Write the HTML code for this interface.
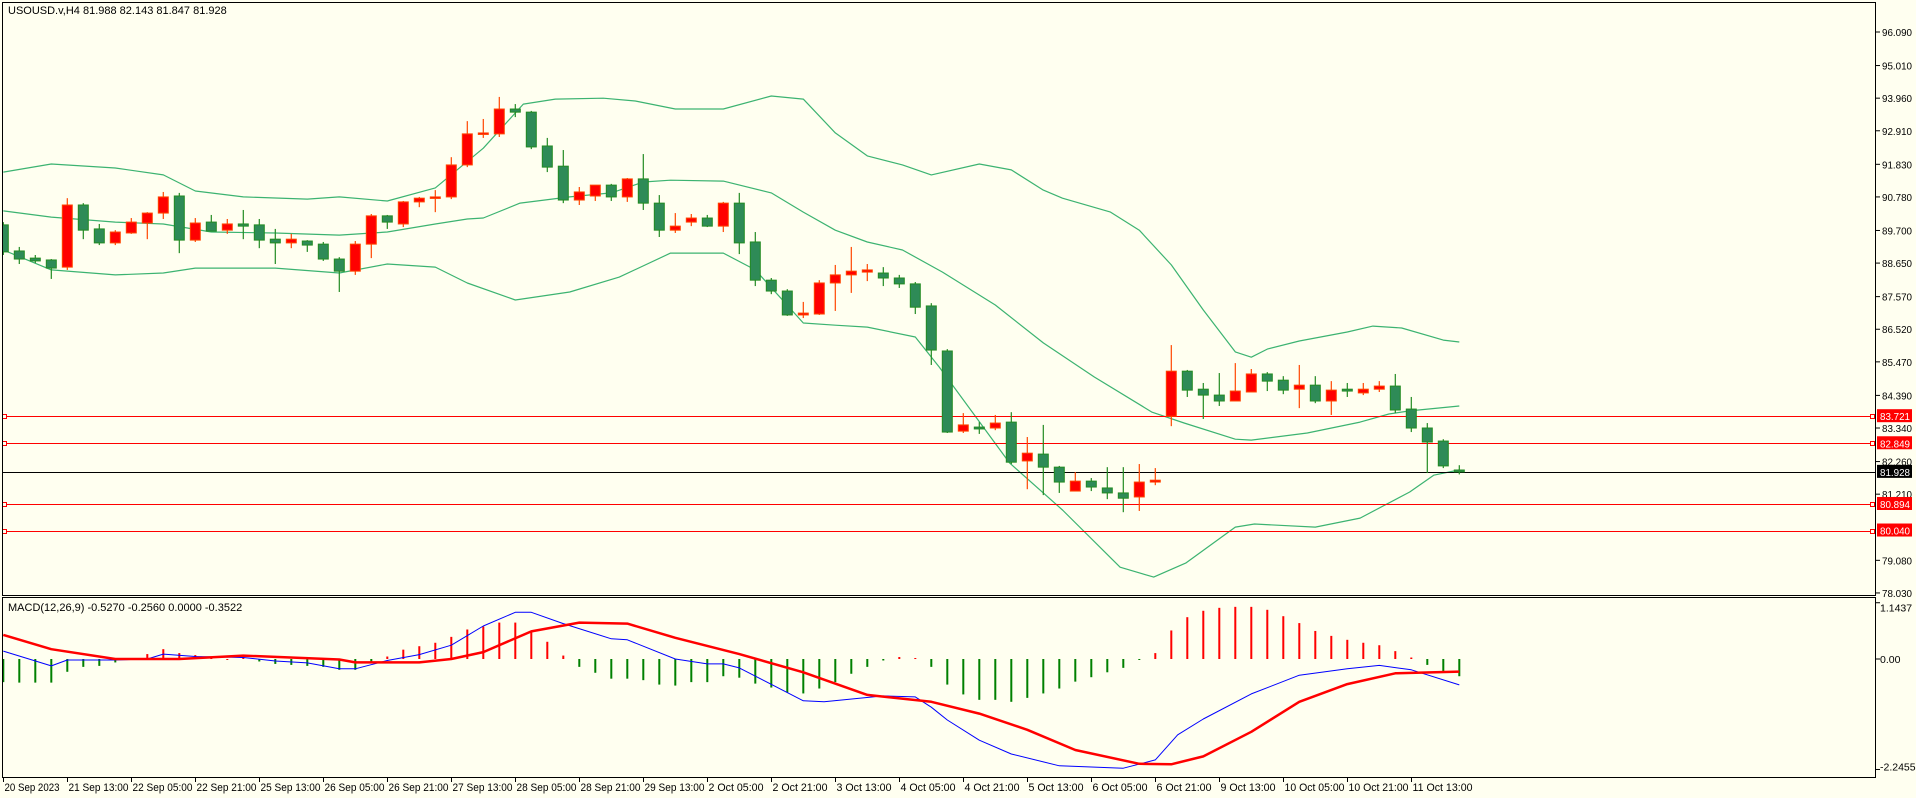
<!DOCTYPE html>
<html><head><meta charset="utf-8"><style>
html,body{margin:0;padding:0;background:#fffff0;}
svg{display:block;font-family:"Liberation Sans",sans-serif;font-size:11px;}
.ax{font-size:10.5px;}
</style></head><body>
<svg id="chart" width="1916" height="798" xmlns="http://www.w3.org/2000/svg">
<rect x="0" y="0" width="1916" height="798" fill="#fffff0"/>
<defs>
<clipPath id="mainClip"><rect x="3" y="3" width="1872" height="592"/></clipPath>
<clipPath id="macdClip"><rect x="3" y="598" width="1872" height="179"/></clipPath>
</defs>
<g id="bands" clip-path="url(#mainClip)"></g>
<g id="levels"></g>
<g id="candles" clip-path="url(#mainClip)"></g>
<g id="macd" clip-path="url(#macdClip)"></g>
<rect x="2.5" y="2.5" width="1873" height="593" fill="none" stroke="#000" stroke-width="1"/>
<rect x="2.5" y="597.5" width="1873" height="180" fill="none" stroke="#000" stroke-width="1"/>
<text x="8" y="14" fill="#000">USOUSD.v,H4  81.988 82.143 81.847 81.928</text>
<text x="8" y="611" fill="#000">MACD(12,26,9) -0.5270 -0.2560 0.0000 -0.3522</text>
<g id="yaxis" class="ax"></g>
<g id="xaxis"></g>
</svg>
<script>
const openP=[89.88,89.04,88.81,88.75,88.52,90.52,89.75,89.30,89.62,89.94,
90.26,90.81,89.39,89.97,89.71,89.91,89.88,89.42,89.30,89.36,
89.26,88.78,88.39,89.26,90.17,89.91,90.62,90.74,90.78,91.81,
92.81,92.81,93.61,93.51,92.42,91.77,90.68,90.81,91.16,90.78,
91.36,90.58,89.71,89.97,90.10,89.84,90.58,89.33,88.10,87.75,
86.98,87.01,88.01,88.27,88.36,88.33,88.17,87.98,87.27,85.82,
83.24,83.37,83.34,83.53,82.28,82.50,82.08,81.31,81.63,81.41,
81.25,81.12,81.60,83.72,85.17,84.59,84.40,84.21,84.50,85.08,
84.88,84.59,84.72,84.21,84.59,84.47,84.59,84.69,83.95,83.34,
82.92,81.988];
const closeP=[89.01,88.78,88.72,88.49,90.52,89.71,89.30,89.65,89.97,90.26,
90.78,89.39,89.94,89.68,89.91,89.84,89.39,89.30,89.42,89.23,
88.78,88.39,89.26,90.17,89.97,90.62,90.74,90.78,91.81,92.81,
92.84,93.61,93.51,92.39,91.74,90.68,90.94,91.16,90.78,91.36,
90.58,89.71,89.84,90.10,89.84,90.58,89.30,88.10,87.75,86.98,
87.04,88.01,88.27,88.39,88.43,88.17,87.98,87.23,85.85,83.21,
83.44,83.31,83.50,82.24,82.53,82.08,81.60,81.63,81.44,81.25,
81.08,81.60,81.66,85.17,84.56,84.40,84.21,84.53,85.08,84.85,
84.56,84.72,84.21,84.56,84.53,84.59,84.69,83.92,83.34,82.89,
82.12,81.928];
const highP=[89.97,89.17,88.91,88.78,90.74,90.58,89.91,89.71,90.10,90.29,
90.94,90.91,90.10,90.20,90.07,90.36,90.07,89.75,89.59,89.39,
89.33,88.84,89.36,90.23,90.20,90.65,90.78,91.00,92.06,93.22,
93.29,94.00,93.77,93.55,92.68,92.29,91.10,91.16,91.20,91.39,
92.16,90.84,90.26,90.23,90.20,90.62,90.91,89.65,88.17,87.81,
87.40,88.10,88.59,89.17,88.62,88.52,88.27,88.04,87.36,85.88,
83.82,83.53,83.76,83.85,83.05,83.44,82.12,81.92,81.73,82.08,
82.08,82.18,82.05,86.01,85.21,84.79,85.11,85.43,85.24,85.14,
85.01,85.37,85.01,84.85,84.79,84.79,84.85,85.08,84.34,83.50,
82.98,82.143];
const lowP=[88.91,88.62,88.65,88.14,88.43,89.42,89.23,89.23,89.59,89.42,
90.07,88.97,89.33,89.68,89.59,89.42,89.13,88.62,89.13,89.01,
88.72,87.72,88.27,88.81,89.75,89.81,90.45,90.29,90.71,91.74,
92.68,92.71,93.35,92.32,91.58,90.58,90.52,90.65,90.65,90.62,
90.36,89.49,89.62,89.84,89.81,89.65,88.94,87.91,87.65,86.95,
86.88,86.98,87.11,87.69,88.07,87.91,87.85,87.01,85.37,83.18,
83.18,83.15,83.27,82.18,81.37,81.18,81.25,81.31,81.31,81.05,
80.63,80.67,81.50,83.40,84.34,83.63,84.05,84.21,84.50,84.53,
84.43,83.98,84.14,83.76,84.34,84.40,84.50,83.82,83.21,81.89,
82.05,81.847];
const bbUpper=[[0,91.58],[3,91.84],[7,91.71],[10,91.49],[12,90.97],[15,90.78],[19,90.71],[21,90.78],[24,90.65],[27,91.07],[30,92.35],[32.5,93.77],[34.5,93.93],[37.5,93.96],[39.5,93.87],[42,93.61],[45,93.61],[48,94.03],[50,93.93],[52,92.84],[54,92.10],[56.2,91.81],[58,91.49],[61,91.84],[63,91.65],[65,91.00],[66.2,90.74],[69.2,90.29],[71,89.71],[73,88.59],[75,87.14],[77,85.79],[78,85.62],[79,85.88],[81,86.14],[84,86.43],[85.6,86.62],[87.4,86.56],[90,86.17],[91,86.11]];
const bbMiddle=[[0,90.33],[3,90.13],[7,89.97],[10,89.91],[13,89.65],[17,89.62],[21,89.55],[24,89.65],[27,89.91],[29,90.07],[30,90.10],[32.3,90.58],[35.4,90.78],[38,90.91],[40,91.26],[41.7,91.32],[45,91.29],[48,90.91],[50,90.29],[52,89.71],[54,89.33],[56.2,89.07],[58.7,88.36],[62,87.30],[65,86.08],[68.2,84.98],[71.8,83.85],[73.8,83.50],[77,82.98],[78,82.95],[81.5,83.18],[84.8,83.53],[86.6,83.79],[87.9,83.89],[91,84.05]];
const bbLower=[[0,89.07],[3,88.43],[7,88.27],[10,88.33],[12,88.49],[17,88.49],[21,88.33],[24,88.62],[27,88.52],[29,88.01],[32,87.46],[35.4,87.72],[38.5,88.20],[41.7,88.97],[45,88.97],[47,88.43],[50,86.72],[52,86.65],[54,86.59],[57,86.27],[58.5,85.30],[62.9,82.21],[66.2,80.70],[69.8,78.86],[71.9,78.54],[73.9,78.99],[77,80.15],[78.2,80.25],[82,80.15],[84.8,80.44],[87.9,81.28],[89.4,81.82],[91,81.99]];
const levelLines=[83.721,82.849,80.894,80.040];
const currentPrice=81.928;
const priceTicks=[96.090,95.010,93.960,92.910,91.830,90.780,89.700,88.650,87.570,86.520,85.470,84.390,83.340,82.260,81.210,79.080,78.030];
const histVals=[-0.47,-0.48,-0.48,-0.48,-0.26,-0.16,-0.14,-0.07,-0.01,0.10,
0.20,0.12,0.08,0.02,0,0.03,-0.05,-0.10,-0.12,-0.14,
-0.16,-0.22,-0.22,-0.07,0.05,0.19,0.26,0.33,0.45,0.60,
0.66,0.74,0.74,0.56,0.35,0.07,-0.16,-0.28,-0.40,-0.40,
-0.43,-0.52,-0.54,-0.47,-0.47,-0.35,-0.38,-0.50,-0.58,-0.68,
-0.70,-0.60,-0.47,-0.30,-0.16,-0.03,0.04,0.02,-0.16,-0.52,
-0.72,-0.83,-0.83,-0.87,-0.79,-0.70,-0.60,-0.46,-0.37,-0.27,
-0.18,-0.01,0.12,0.58,0.85,0.98,1.04,1.06,1.06,1.00,
0.87,0.73,0.57,0.47,0.39,0.33,0.28,0.16,0.03,-0.12,
-0.28,-0.35];
const macdMain=[[0,0.16],[3,-0.14],[4,-0.02],[7,-0.02],[9,0],[10,0.10],[12,0.05],[15,0.03],[17,-0.04],[19,-0.08],[21,-0.20],[22,-0.20],[24,-0.03],[26,0.09],[28,0.28],[30,0.67],[32,0.95],[33,0.95],[35,0.72],[38,0.41],[39,0.39],[42,0],[44,-0.10],[45,-0.10],[46,-0.18],[50,-0.85],[51.3,-0.87],[55,-0.75],[57,-0.77],[58,-0.98],[59,-1.24],[61,-1.65],[63,-1.93],[66,-2.17],[70,-2.22],[72,-2.05],[73.4,-1.54],[75,-1.22],[78,-0.71],[81,-0.33],[84,-0.20],[86,-0.13],[88,-0.22],[91,-0.527]];
const macdSignal=[[0,0.49],[3,0.20],[7,0],[11,0],[15,0.07],[21,-0.01],[22,-0.07],[26,-0.07],[28,0],[30,0.14],[33,0.56],[36,0.74],[39,0.72],[42,0.43],[46,0.10],[50,-0.27],[54,-0.73],[58,-0.87],[61,-1.11],[64,-1.44],[67,-1.85],[71,-2.13],[73,-2.14],[75,-1.98],[78,-1.48],[81,-0.87],[84,-0.51],[87,-0.29],[91,-0.256]];
const macdTicks=[1.1437,0.00,-2.2455];
const macdTickLabels=["1.1437","0.00","-2.2455"];
const timeLabels=["20 Sep 2023","21 Sep 13:00","22 Sep 05:00","22 Sep 21:00","25 Sep 13:00","26 Sep 05:00","26 Sep 21:00","27 Sep 13:00","28 Sep 05:00","28 Sep 21:00","29 Sep 13:00","2 Oct 05:00","2 Oct 21:00","3 Oct 13:00","4 Oct 05:00","4 Oct 21:00","5 Oct 13:00","6 Oct 05:00","6 Oct 21:00","9 Oct 13:00","10 Oct 05:00","10 Oct 21:00","11 Oct 13:00"];

const NS="http://www.w3.org/2000/svg";
function xB(i){return 3.3+16*i;}
function yP(p){return 32+(96.09-p)*31.06;}
function yM(v){return 659-v*49.2;}
function mk(tag,attrs,parent){const e=document.createElementNS(NS,tag);for(const k in attrs)e.setAttribute(k,attrs[k]);parent.appendChild(e);return e;}

const gB=document.getElementById('bands');
[[bbUpper,'bollinger-upper'],[bbMiddle,'bollinger-middle'],[bbLower,'bollinger-lower']].forEach(([arr,nm])=>{
  const pts=arr.map(d=>xB(d[0]).toFixed(1)+','+yP(d[1]).toFixed(1)).join(' ');
  const pl=mk('polyline',{points:pts,fill:'none',stroke:'#3cb371','stroke-width':1.2,'stroke-linejoin':'round'},gB);
  
  
});

const gC=document.getElementById('candles');
for(let i=0;i<openP.length;i++){
  const up=closeP[i]>=openP[i];
  const x=xB(i);
  const wc=up?'#ff4500':'#228b22';
  const fill=up?'#ff0000':'#2e8b57';
  const g=mk('g',{},gC);
  
  
  mk('line',{x1:x,x2:x,y1:yP(highP[i]),y2:yP(lowP[i]),stroke:wc,'stroke-width':1.2},g);
  const top=yP(Math.max(openP[i],closeP[i])),bot=yP(Math.min(openP[i],closeP[i]));
  const h=Math.max(bot-top,1.5);
  mk('rect',{x:x-5,y:top,width:10,height:h,fill:fill,stroke:wc,'stroke-width':1},g);
}

const gL=document.getElementById('levels');
levelLines.forEach(p=>{
  const y=Math.round(yP(p))+0.5;
  const ln=mk('line',{x1:3,x2:1875,y1:y,y2:y,stroke:'#ff0000','stroke-width':1},gL);
  
  
  mk('rect',{x:2.5,y:y-2,width:4,height:4,fill:'#fffff0',stroke:'#ff0000'},gL);
  mk('rect',{x:1870.5,y:y-2,width:4,height:4,fill:'#fffff0',stroke:'#ff0000'},gL);
});
{
  const y=Math.round(yP(currentPrice))+0.5;
  const ln=mk('line',{x1:3,x2:1875,y1:y,y2:y,stroke:'#000','stroke-width':1},gL);
  
  
}

const gY=document.getElementById('yaxis');
priceTicks.forEach(p=>{
  const y=yP(p);
  mk('line',{x1:1876,x2:1880,y1:y,y2:y,stroke:'#000'},gY);
  const t=mk('text',{x:1882,y:y+4,fill:'#000',textLength:30,lengthAdjust:'spacingAndGlyphs'},gY);
  t.textContent=p.toFixed(3);
  
  
});
levelLines.forEach(p=>{
  const y=yP(p);
  mk('rect',{x:1877,y:y-7,width:35,height:13,fill:'#ff0000'},gY);
  const t=mk('text',{x:1880,y:y+4,fill:'#fff',textLength:30,lengthAdjust:'spacingAndGlyphs'},gY);
  t.textContent=p.toFixed(3);
  
  
});
{
  const y=yP(currentPrice);
  mk('rect',{x:1877,y:y-7,width:35,height:13,fill:'#000'},gY);
  const t=mk('text',{x:1880,y:y+4,fill:'#fff',textLength:30,lengthAdjust:'spacingAndGlyphs'},gY);
  t.textContent=currentPrice.toFixed(3);
  
  
}
macdTicks.forEach((v,k)=>{
  let y=yM(v);
  mk('line',{x1:1876,x2:1880,y1:y,y2:y,stroke:'#000'},gY);
  if(k===0)y+=5; if(k===2)y-=3;
  const t=mk('text',{x:1880,y:y+4,fill:'#000'},gY);
  t.textContent=macdTickLabels[k];
  
  
});

const gM=document.getElementById('macd');
histVals.forEach((v,i)=>{
  const x=xB(i);
  const r=mk('rect',{x:x-1,y:Math.min(yM(v),yM(0)),width:2,height:Math.max(Math.abs(yM(v)-yM(0)),1),fill:v>=0?'#ff0000':'#008000'},gM);
  
  
});
{
  const pl=mk('polyline',{points:macdMain.map(d=>xB(d[0]).toFixed(1)+','+yM(d[1]).toFixed(1)).join(' '),fill:'none',stroke:'#0000ff','stroke-width':1,'stroke-linejoin':'round'},gM);
  
  
  const ps=mk('polyline',{points:macdSignal.map(d=>xB(d[0]).toFixed(1)+','+yM(d[1]).toFixed(1)).join(' '),fill:'none',stroke:'#ff0000','stroke-width':2.5,'stroke-linejoin':'round'},gM);
  
  
}

const gX=document.getElementById('xaxis');
timeLabels.forEach((s,k)=>{
  const x=Math.round(xB(k*4))+0.5;
  mk('line',{x1:x,x2:x,y1:778,y2:782,stroke:'#000'},gX);
  const t=mk('text',{x:x+1,y:791,fill:'#000',textLength:s.length>11?60:55,lengthAdjust:'spacingAndGlyphs'},gX);
  t.textContent=s;
  
  
});
</script>
</body></html>
